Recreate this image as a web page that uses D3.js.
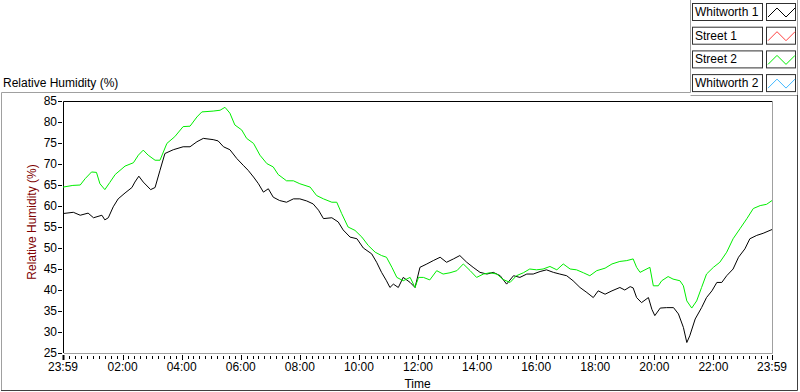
<!DOCTYPE html>
<html>
<head>
<meta charset="utf-8">
<script src="https://cdn.jsdelivr.net/npm/d3@7/dist/d3.min.js"></script>
<style>
  body { margin: 0; background: #fff; }
  text { font-family: "Liberation Sans", Arial, sans-serif; font-size: 12px; }
</style>
</head>
<body>
<div id="chart"></div>
<script>
var width = 800;
var height = 392;

// legend
var seriesNames = ["Whitworth 1", "Street 1", "Street 2", "Whitworth 2"];
var seriesColors = ["#000000", "#ff4040", "#00ee00", "#40b8ff"];

// time = minutes elapsed since 23:59 of the previous day
var xTickMinutes = [0, 121, 241, 361, 481, 601, 721, 841, 961, 1081, 1201, 1321, 1440];
var xTickLabels = ["23:59", "02:00", "04:00", "06:00", "08:00", "10:00", "12:00", "14:00", "16:00", "18:00", "20:00", "22:00", "23:59"];
var yTicks = [25, 30, 35, 40, 45, 50, 55, 60, 65, 70, 75, 80, 85];

// Whitworth 1 (black)
var whitworth1Time = [0, 21, 35, 51, 62, 79, 85, 92, 102, 112, 126, 140, 146, 154, 163, 178, 187, 197, 207, 224,
  244, 258, 272, 285, 305, 315, 326, 339, 353, 366, 376, 387, 397, 407, 417, 427, 440, 454, 468, 481,
  495, 508, 519, 529, 546, 559, 569, 583, 597, 610, 627, 637, 647, 657, 664, 671, 681, 691, 705, 715,
  725, 739, 752, 766, 779, 793, 806, 820, 833, 847, 861, 874, 888, 901, 915, 928, 942, 955, 969, 982,
  996, 1009, 1023, 1036, 1050, 1064, 1077, 1087, 1101, 1115, 1131, 1141, 1152, 1158, 1165, 1175, 1189, 1196, 1202, 1213,
  1226, 1240, 1250, 1260, 1267, 1273, 1284, 1297, 1307, 1318, 1328, 1338, 1348, 1361, 1372, 1385, 1395, 1409, 1422, 1440];
var whitworth1RH = [58.2, 58.5, 57.8, 58.3, 57.2, 57.8, 56.7, 57.2, 59.8, 61.7, 63.1, 64.4, 65.7, 67.1, 65.7, 63.9, 64.4, 68.5, 72.5, 73.4,
  74.1, 74.1, 75.3, 76.1, 75.8, 75.5, 74.1, 73.4, 71.3, 69.7, 68.5, 66.9, 65.3, 63.3, 64.1, 62.1, 61.3, 60.9, 61.7, 61.7,
  61.2, 60.5, 59.0, 57.0, 57.2, 56.2, 54.3, 52.6, 52.2, 50.0, 48.6, 46.6, 44.2, 42.2, 40.6, 41.4, 40.6, 43.0, 41.8, 40.6,
  45.4, 46.2, 47.0, 47.8, 46.6, 47.4, 48.2, 46.6, 45.4, 44.2, 43.8, 44.2, 43.4, 41.4, 43.4, 43.0, 43.8, 43.8, 44.4, 44.8,
  44.2, 43.8, 43.4, 42.2, 40.6, 39.4, 38.2, 39.8, 39.0, 39.8, 40.6, 40.0, 40.8, 40.5, 38.2, 37.0, 38.2, 35.4, 33.9, 35.7,
  35.8, 35.8, 34.3, 31.1, 27.5, 29.1, 33.1, 35.8, 38.2, 39.8, 41.8, 41.8, 43.4, 45.0, 47.8, 49.8, 52.2, 53.0, 53.5, 54.4];

// Street 2 (green)
var street2Time = [0, 20, 35, 45, 58, 68, 75, 85, 95, 106, 126, 143, 153, 163, 173, 187, 197, 211, 227, 244,
  258, 272, 282, 305, 319, 329, 339, 349, 363, 373, 387, 400, 414, 427, 437, 454, 468, 481, 502, 515,
  529, 546, 556, 566, 579, 593, 607, 620, 634, 647, 657, 668, 678, 691, 705, 715, 722, 732, 745, 759,
  772, 786, 800, 813, 827, 840, 854, 867, 881, 894, 908, 921, 935, 948, 962, 975, 989, 1003, 1016, 1030,
  1043, 1057, 1070, 1084, 1101, 1115, 1131, 1145, 1158, 1165, 1172, 1182, 1192, 1199, 1209, 1216, 1229, 1239, 1253, 1260,
  1267, 1277, 1287, 1297, 1307, 1321, 1334, 1348, 1361, 1375, 1389, 1402, 1416, 1429, 1440];
var street2RH = [64.5, 64.9, 65.0, 66.5, 68.1, 68.0, 65.3, 63.9, 65.6, 67.5, 69.5, 70.3, 72.1, 73.3, 72.1, 70.9, 70.9, 74.9, 76.5, 78.9,
  79.0, 81.2, 82.4, 82.6, 82.8, 83.5, 82.1, 79.3, 78.1, 76.1, 74.9, 72.1, 70.1, 69.3, 67.5, 66.0, 66.0, 65.3, 64.5, 62.5,
  61.7, 60.9, 60.9, 58.2, 55.0, 54.2, 52.6, 50.6, 49.0, 48.2, 47.8, 45.4, 43.0, 42.2, 43.0, 40.6, 43.0, 43.0, 42.4, 44.6,
  43.8, 44.1, 44.6, 46.2, 44.6, 43.0, 43.8, 44.1, 43.8, 42.5, 41.8, 43.4, 44.1, 45.0, 44.8, 45.0, 45.6, 44.8, 46.2, 45.0,
  44.8, 44.1, 43.4, 44.6, 45.2, 46.2, 46.8, 47.0, 47.4, 45.4, 44.2, 44.8, 45.4, 41.0, 41.0, 42.2, 43.2, 42.6, 42.2, 41.0,
  37.4, 35.7, 37.4, 40.6, 43.8, 45.4, 46.6, 49.0, 52.2, 54.6, 57.0, 59.4, 60.1, 60.4, 61.3];

var plotted = [
  {time: whitworth1Time, rh: whitworth1RH, color: seriesColors[0]},
  {time: street2Time, rh: street2RH, color: seriesColors[2]}
];

var plotLeft = 63, plotRight = 772, plotTop = 101, plotBottom = 353;

var svg = d3.select("#chart").append("svg")
    .attr("width", width)
    .attr("height", height);

var x = d3.scaleLinear().domain([0, 1440]).range([plotLeft, plotRight]);
var y = d3.scaleLinear().domain([25, 85]).range([plotBottom, plotTop]);

/* outer panel frame */
svg.append("path")
    .attr("d", "M1.5,391 V92.5 H690.5 V0")
    .attr("fill", "none").attr("stroke", "#a0a0a0");
svg.append("path")
    .attr("d", "M690.5,95.5 H797.5 V0")
    .attr("fill", "none").attr("stroke", "#a0a0a0");
svg.append("path")
    .attr("d", "M1,390.5 H797.5 V95")
    .attr("fill", "none").attr("stroke", "#404040");

svg.append("text")
    .attr("x", 3).attr("y", 87)
    .text("Relative Humidity (%)");

/* plot area */
svg.append("path")
    .attr("d", "M" + (plotLeft + 0.5) + "," + plotBottom + " V" + (plotTop + 0.5) + " H" + plotRight)
    .attr("fill", "none").attr("stroke", "#000");
svg.append("path")
    .attr("d", "M" + (plotLeft + 1) + "," + (plotBottom + 0.5) + " H" + (plotRight + 0.5) + " V" + plotTop)
    .attr("fill", "none").attr("stroke", "#a0a0a0");

/* y axis */
var yAxis = svg.append("g");
yAxis.selectAll("line").data(yTicks).enter().append("line")
    .attr("x1", plotLeft - 5).attr("x2", plotLeft - 1)
    .attr("y1", function (d) { return Math.round(y(d)) + 0.5; })
    .attr("y2", function (d) { return Math.round(y(d)) + 0.5; })
    .attr("stroke", "#000");
yAxis.selectAll("text").data(yTicks).enter().append("text")
    .attr("x", plotLeft - 6)
    .attr("y", function (d) { return y(d) + 4; })
    .attr("text-anchor", "end")
    .text(function (d) { return d; });

svg.append("text")
    .attr("transform", "translate(36," + ((plotTop + plotBottom) / 2 - 5) + ") rotate(-90)")
    .attr("text-anchor", "middle")
    .attr("fill", "#800000")
    .text("Relative Humidity (%)");

/* x axis */
var minorTicks = d3.range(1, 1440, 12);
svg.append("g").selectAll("line").data(minorTicks).enter().append("line")
    .attr("x1", function (d) { return Math.round(x(d)) + 0.5; })
    .attr("x2", function (d) { return Math.round(x(d)) + 0.5; })
    .attr("y1", plotBottom + 3).attr("y2", plotBottom + 6)
    .attr("stroke", "#000");
svg.append("g").selectAll("line").data(xTickMinutes).enter().append("line")
    .attr("x1", function (d) { return Math.round(x(d)) + 0.5; })
    .attr("x2", function (d) { return Math.round(x(d)) + 0.5; })
    .attr("y1", plotBottom + 2).attr("y2", plotBottom + 7)
    .attr("stroke", "#000")
    .attr("stroke-width", function (d, i) { return i === 0 ? 2 : 1; });
svg.append("g").selectAll("text").data(xTickMinutes).enter().append("text")
    .attr("x", function (d) { return x(d); })
    .attr("y", plotBottom + 18)
    .attr("text-anchor", "middle")
    .text(function (d, i) { return xTickLabels[i]; });

svg.append("text")
    .attr("x", (plotLeft + plotRight) / 2).attr("y", 388)
    .attr("text-anchor", "middle")
    .text("Time");

/* data lines */
var line = d3.line()
    .x(function (d) { return x(d[0]); })
    .y(function (d) { return y(d[1]); });

plotted.forEach(function (s) {
    var pts = s.time.map(function (t, i) { return [t, s.rh[i]]; });
    svg.append("path")
        .datum(pts)
        .attr("d", line)
        .attr("fill", "none")
        .attr("stroke", s.color)
        .attr("stroke-width", 1)
        .attr("stroke-linejoin", "miter");
});

/* legend */
var legend = svg.append("g").selectAll("g")
    .data(seriesNames)
    .enter().append("g")
    .attr("transform", function (d, i) { return "translate(0," + (3 + i * 23.7) + ")"; });

legend.append("rect")
    .attr("x", 692.5).attr("y", 0.5)
    .attr("width", 70).attr("height", 17)
    .attr("fill", "#fff").attr("stroke", "#303030");
legend.append("text")
    .attr("x", 695).attr("y", 13)
    .text(function (d) { return d; });
legend.append("rect")
    .attr("x", 766.5).attr("y", 0.5)
    .attr("width", 29).attr("height", 17)
    .attr("fill", "#fff").attr("stroke", "#303030");
legend.append("path")
    .attr("d", "M768,14 L777,5 L786,14 L795,5")
    .attr("fill", "none")
    .attr("stroke", function (d, i) { return seriesColors[i]; });
</script>
</body>
</html>
